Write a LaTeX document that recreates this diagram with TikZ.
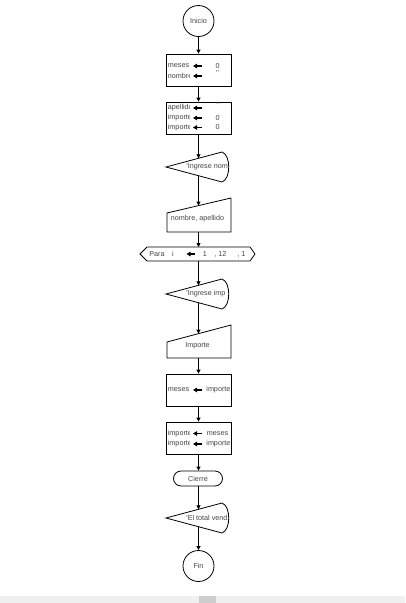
\documentclass[tikz,border=0pt]{standalone}
\usepackage{fontspec}
\setmainfont{Liberation Sans}
\usetikzlibrary{arrows.meta}
\definecolor{txt}{HTML}{444444}
\definecolor{sbar}{HTML}{F0F0F0}
\definecolor{sthumb}{HTML}{CDCDCD}
\begin{document}
\begin{tikzpicture}[x=1pt,y=-1pt,
  font=\fontsize{7.2}{8}\selectfont,
  line width=0.8pt,
  conn/.style={-{Triangle[length=4pt,width=4pt]}},
  asg/.style={line width=1.1pt,-{Triangle[length=4pt,width=4.5pt]}},
  lbl/.style={inner sep=0pt, text=txt, anchor=west},
  val/.style={inner sep=0pt, text=txt},
  boxnode/.style={draw, minimum width=65pt, minimum height=32pt, inner sep=0pt},
  term/.style={draw, circle, minimum size=31pt, inner sep=0pt, text=txt},
  cierrenode/.style={draw, rounded corners=7.5pt, minimum width=49pt, minimum height=15pt, inner sep=0pt, text=txt}]
\useasboundingbox (0,0) rectangle (405,603);
% scrollbar
\fill[sbar] (0,596) rectangle (405,603);
\fill[sthumb] (199,596) rectangle (216,603);

% Inicio
\node[term] (ini) at (198.5,21) {Inicio};

% box 1
\node[boxnode] (b1) at (198.5,70) {};
\begin{scope}
  \clip (166,54) rectangle (189.5,86);
  \node[lbl] (b1l1) at (167.5,66) {meses};
  \node[lbl] (b1l2) at (167.5,76) {nombre};
\end{scope}
\draw[asg] (202,66) -- (193,66);
\draw[asg] (202,76) -- (193,76);
\node[val] (b1v1) at (217.5,66) {0};
\node[val] (b1v2) at (217.5,73) {\textquotesingle\textquotesingle};

% box 2
\node[boxnode] (b2) at (198.5,118) {};
\begin{scope}
  \clip (166,102) rectangle (189.5,134);
  \node[lbl] (b2l1) at (167.5,108) {apellido};
  \node[lbl] (b2l2) at (167.5,118) {importe};
  \node[lbl] (b2l3) at (167.5,127.5) {importe};
\end{scope}
\draw[asg] (202,108) -- (193,108);
\draw[asg] (202,118) -- (193,118);
\draw[asg] (202,127.5) -- (193,127.5);
\node[val] (b2v1) at (217.5,105.5) {\textquotesingle\textquotesingle};
\node[val] (b2v2) at (217.5,118) {0};
\node[val] (b2v3) at (217.5,127.5) {0};

% display 1
\draw (166,167) -- (222,152) .. controls (231,155) and (231,179) .. (222,182) -- cycle;
\coordinate (d1t) at (198.5,158.3);
\coordinate (d1b) at (198.5,175.7);
\begin{scope}
  \clip (166,150) rectangle (227,184);
  \node[lbl] (d1x) at (186,167) {\textquotesingle Ingrese nom};
\end{scope}

% input 1
\draw (167,213) -- (231,198) -- (231,232) -- (167,232) -- cycle;
\coordinate (in1t) at (198.5,205.6);
\coordinate (in1b) at (198.5,232);
\node[val] (in1x) at (197.5,218.5) {nombre, apellido};

% Para
\draw (140,254) -- (147,247) -- (250,247) -- (255,254) -- (250,261) -- (147,261) -- cycle;
\coordinate (hxt) at (198.5,247);
\coordinate (hxb) at (198.5,261);
\node[lbl] (hx1) at (149,254) {Para};
\node[val] (hx2) at (173,254) {i};
\draw[asg] (195,254) -- (186.5,254);
\node[val] (hx3) at (205,254) {1};
\node[lbl] (hx4) at (214,254) {, 12};
\node[lbl] (hx5) at (237,254) {, 1};

% display 2
\draw (166,294) -- (222,279) .. controls (231,282) and (231,306) .. (222,309) -- cycle;
\coordinate (d2t) at (198.5,285.3);
\coordinate (d2b) at (198.5,302.7);
\begin{scope}
  \clip (166,277) rectangle (227,311);
  \node[lbl] (d2x) at (186,294) {\textquotesingle Ingrese imp};
\end{scope}

% input 2
\draw (167,342) -- (231,325) -- (231,358) -- (167,358) -- cycle;
\coordinate (in2t) at (198.5,333.6);
\coordinate (in2b) at (198.5,358);
\node[val] (in2x) at (197.5,345.5) {Importe};

% box 3
\node[boxnode] (b3) at (198.5,390) {};
\begin{scope}
  \clip (166,374) rectangle (189.5,406);
  \node[lbl] (b3l1) at (167.5,390) {meses};
\end{scope}
\draw[asg] (202,390) -- (193,390);
\begin{scope}
  \clip (204,374) rectangle (229,406);
  \node[lbl] (b3r1) at (206,390) {importe};
\end{scope}

% box 4
\node[boxnode] (b4) at (198.5,438) {};
\begin{scope}
  \clip (166,422) rectangle (189.5,454);
  \node[lbl] (b4l1) at (167.5,433.5) {importe};
  \node[lbl] (b4l2) at (167.5,444) {importe};
\end{scope}
\draw[asg] (202,433.5) -- (193,433.5);
\draw[asg] (202,444) -- (193,444);
\begin{scope}
  \clip (204,422) rectangle (229,454);
  \node[lbl] (b4r1) at (206.5,433.5) {meses};
  \node[lbl] (b4r2) at (206,444) {importe};
\end{scope}

% Cierre
\node[cierrenode] (cie) at (198,478.5) {Cierre};

% display 3
\draw (166,518) -- (222,503) .. controls (231,506) and (231,530) .. (222,533) -- cycle;
\coordinate (d3t) at (198.5,509.3);
\coordinate (d3b) at (198.5,526.7);
\begin{scope}
  \clip (166,501) rectangle (227,535);
  \node[lbl] (d3x) at (186,518) {\textquotesingle El total vend};
\end{scope}

% Fin
\node[term] (fin) at (198.5,566) {Fin};

% connectors
\draw[conn] (ini.south) -- (b1.north);
\draw[conn] (b1.south) -- (b2.north);
\draw[conn] (b2.south) -- (d1t);
\draw[conn] (d1b) -- (in1t);
\draw[conn] (in1b) -- (hxt);
\draw[conn] (hxb) -- (d2t);
\draw[conn] (d2b) -- (in2t);
\draw[conn] (in2b) -- (b3.north);
\draw[conn] (b3.south) -- (b4.north);
\draw[conn] (b4.south) -- (b4.south |- cie.north);
\draw[conn] (cie.south -| d3t) -- (d3t);
\draw[conn] (d3b) -- (fin.north);
\end{tikzpicture}
\end{document}
